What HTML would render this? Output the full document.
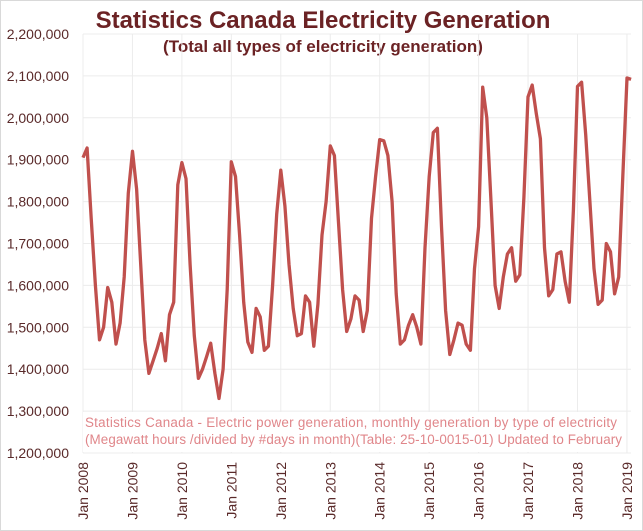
<!DOCTYPE html>
<html><head><meta charset="utf-8"><style>
body{margin:0;background:#fff}
svg{display:block;font-family:"Liberation Sans",sans-serif}
</style></head><body>
<svg id="chart" width="643" height="531" viewBox="0 0 643 531">
<rect x="0.5" y="0.5" width="642" height="530" fill="#fff" stroke="#d9d9d9"/>
<text x="323" y="28" text-anchor="middle" font-size="24" font-weight="bold" fill="#6b2224">Statistics Canada Electricity Generation</text>
<text x="323" y="52" text-anchor="middle" font-size="17" font-weight="bold" fill="#6b2224">(Total all types of electricity generation)</text>
<g id="grid"></g>
<g id="yticks"></g>
<g id="xticks"></g>
<rect x="83" y="412" width="543" height="40" fill="#fff"/>
<text x="85" y="427" font-size="13.4" fill="#e0868a" textLength="532">Statistics Canada - Electric power generation, monthly generation by type of electricity</text>
<text x="85" y="444" font-size="13.4" fill="#e0868a" textLength="537">(Megawatt hours /divided by #days in month)(Table: 25-10-0015-01) Updated to February</text>
<path id="line" fill="none" stroke="#c0504d" stroke-width="3.3" stroke-linejoin="round"/>
</svg>
<script>
const yearLabels=["Jan 2008","Jan 2009","Jan 2010","Jan 2011","Jan 2012","Jan 2013","Jan 2014","Jan 2015","Jan 2016","Jan 2017","Jan 2018","Jan 2019"];
const yTicks=[1200000,1300000,1400000,1500000,1600000,1700000,1800000,1900000,2000000,2100000,2200000];
const values=[
1905,1928,1760,1600,1470,1500,1595,1560,1460,1510,1620,1820,
1920,1830,1650,1470,1390,1420,1450,1485,1420,1530,1560,1840,
1893,1855,1650,1480,1378,1400,1430,1462,1390,1330,1400,1590,
1895,1860,1720,1560,1465,1440,1545,1525,1445,1455,1600,1770,
1875,1790,1650,1545,1480,1485,1575,1560,1455,1555,1720,1800,
1933,1910,1750,1590,1490,1520,1575,1565,1490,1540,1760,1860,
1948,1945,1910,1800,1580,1460,1470,1505,1530,1500,1460,1690,
1860,1965,1975,1740,1540,1435,1470,1510,1505,1460,1445,1640,
1740,2073,2000,1800,1600,1545,1620,1675,1690,1610,1625,1810,
2050,2078,2010,1950,1690,1575,1590,1675,1680,1610,1560,1780,
2075,2085,1960,1800,1640,1555,1565,1700,1680,1580,1620,1860,
2095,2092].map(v=>v*1000);
const X0=83,YW=49.45,Y0=453,YT=34;
const xs=i=>X0+i*YW/12;
const ys=v=>Y0-(v-1200000)/1000000*(Y0-YT);
const NS="http://www.w3.org/2000/svg";
const grid=document.getElementById('grid'),yt=document.getElementById('yticks'),xt=document.getElementById('xticks');
yTicks.forEach(v=>{
 const l=document.createElementNS(NS,'line');
 l.setAttribute('x1',X0);l.setAttribute('x2',X0+11*YW+4);l.setAttribute('y1',ys(v));l.setAttribute('y2',ys(v));
 l.setAttribute('stroke','#ececec');l.setAttribute('stroke-width','1');
 
 
 grid.appendChild(l);
 const t=document.createElementNS(NS,'text');
 t.setAttribute('x',69);t.setAttribute('y',ys(v)+5);t.setAttribute('text-anchor','end');
 t.setAttribute('font-size','14');t.setAttribute('fill','#5a2a2a');
 t.textContent=v.toLocaleString('en-US');
 
 
 yt.appendChild(t);
});
yearLabels.forEach((s,i)=>{
 const x=X0+i*YW;
 const l=document.createElementNS(NS,'line');
 l.setAttribute('x1',x);l.setAttribute('x2',x);l.setAttribute('y1',YT);l.setAttribute('y2',Y0);
 l.setAttribute('stroke','#ececec');l.setAttribute('stroke-width','1');
 
 
 grid.appendChild(l);
 const t=document.createElementNS(NS,'text');
 t.setAttribute('transform','translate('+(x+5)+',462) rotate(-90)');
 t.setAttribute('text-anchor','end');t.setAttribute('font-size','14');t.setAttribute('fill','#5a2a2a');
 t.textContent=s;
 
 
 xt.appendChild(t);
});
document.getElementById('line').setAttribute('d',values.map((v,i)=>(i?'L':'M')+xs(i).toFixed(1)+','+ys(v).toFixed(1)).join(''));
</script>
</body></html>
